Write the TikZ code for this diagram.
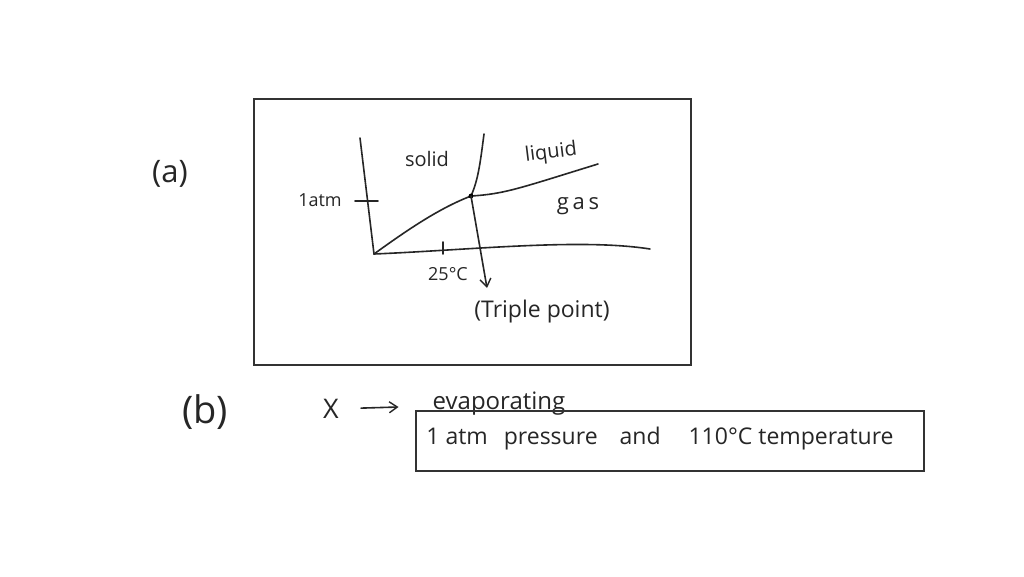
\documentclass[tikz,border=0pt]{standalone}
\usepackage{fontspec}
\setmainfont{Open Sans}
\usetikzlibrary{arrows.meta}
\begin{document}
\begin{tikzpicture}[x=1pt,y=-1pt,
  ink/.style={line width=1.6pt,line cap=round,line join=round,black!85},
  frame/.style={line width=1.3pt,black!80},
  hand/.style={inner sep=0pt,text=black!85},
  barb/.style={-{Straight Barb[length=8pt,width=11pt,line width=1.4pt]}}]
\useasboundingbox (0,0) rectangle (1024,576);
\fill[white] (0,0) rectangle (1024,576);
% part (a)
\node[hand,font=\fontsize{31}{36}\selectfont] (la) at (170,174) {(a)};
\draw[frame] (254,99) rectangle (691,365);
% axes
\coordinate (ytop) at (360,138);
\coordinate (org) at (374,254);
\coordinate (xend) at (650,249);
\coordinate (tp) at (471,196);
\coordinate (sltop) at (484,134);
\coordinate (lgend) at (598,164);
\coordinate (arrend) at (487,288);
\draw[ink] (ytop) -- (org);
\draw[ink] (org) .. controls (470,250) and (580,238) .. (xend);
\draw[ink] (355,201) -- (378,201);
\draw[ink] (443,242) -- (443,254);
\draw[ink] (org) .. controls (410,228) and (440,208) .. (tp);
\draw[ink] (tp) .. controls (478,180) and (480,165) .. (sltop);
\draw[ink] (tp) .. controls (505,194) and (520,188) .. (lgend);
\fill[black] (tp) circle (2.4pt);
\draw[ink,barb] (tp) -- (arrend);
\node[hand,font=\fontsize{18}{20}\selectfont] (atm) at (320,200) {1atm};
\node[hand,font=\fontsize{18}{20}\selectfont] (tc) at (448,274) {25°C};
\node[hand,font=\fontsize{20}{22}\selectfont] (solid) at (427,159) {solid};
\node[hand,font=\fontsize{20}{22}\selectfont,rotate=7] (liquid) at (551,153) {liquid};
\node[hand,font=\fontsize{22}{24}\selectfont] (gas) at (578,206) {g\,a\,s};
\node[hand,font=\fontsize{23}{26}\selectfont] (trip) at (542,312) {(Triple point)};
% part (b)
\node[hand,font=\fontsize{38}{42}\selectfont] (lb) at (205,412) {(b)};
\node[hand,font=\fontsize{27}{30}\selectfont] (X) at (331,409) {X};
\node[hand,font=\fontsize{24}{28}\selectfont] (evap) at (499,404) {evaporating};
\draw[ink,barb,shorten <=22pt,shorten >=34pt] (X) -- (evap);
\draw[frame] (416,411) rectangle (924,471);
\node[hand,font=\fontsize{23}{26}\selectfont] (cond) at (660,439) {1 atm\hspace{10pt} pressure\hspace{16pt} and\hspace{22pt} 110°C temperature};
\end{tikzpicture}
\end{document}
